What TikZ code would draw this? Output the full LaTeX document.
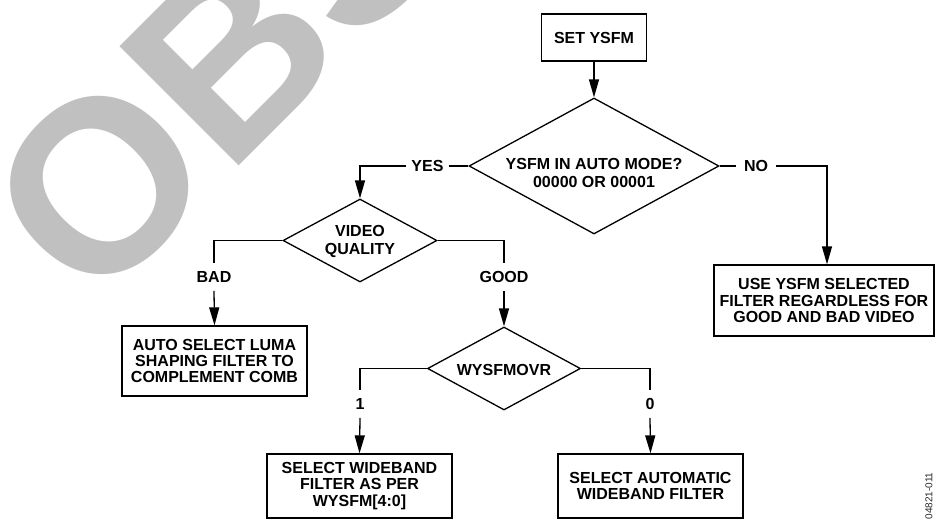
\documentclass[tikz,border=0pt]{standalone}
\usepackage{fontspec}
\setmainfont{Liberation Sans}
\usetikzlibrary{shapes.geometric,arrows.meta}
\definecolor{wmgrey}{HTML}{C0C0C0}
\begin{document}
\begin{tikzpicture}[x=1pt,y=-1pt,
  boxnode/.style={draw, line width=1.3pt, inner sep=0pt, align=center,
    font=\bfseries\fontsize{16}{16.4}\selectfont},
  dianode/.style={draw, shape=diamond, line width=1.3pt, inner sep=0pt},
  diatext/.style={align=center, inner sep=0pt,
    font=\bfseries\fontsize{16}{17.5}\selectfont},
  lblnode/.style={inner xsep=5pt, inner ysep=8pt, text height=11.5pt, text depth=0pt,
    font=\bfseries\fontsize{16}{16}\selectfont},
  conn/.style={line width=1.3pt},
  arrconn/.style={line width=1.3pt, -{Triangle[length=18pt,width=10pt]}},
  wmtext/.style={rotate=45, anchor=base west, inner sep=0pt, text=wmgrey,
    font=\bfseries\fontsize{245}{245}\selectfont}
]
\useasboundingbox (0,0) rectangle (935,523);
% watermark
\begin{scope}
  \clip (0,0) rectangle (935,523);
  \node[wmtext] (wm) at (92.5,312.5) {OBSOLETE};
\end{scope}

% boxes
\node[boxnode, minimum width=105pt, minimum height=47pt] (set) at (594,37.5) {SET YSFM};
\node[boxnode, minimum width=185pt, minimum height=70pt] (luma) at (214.5,361) {AUTO SELECT LUMA\\SHAPING FILTER TO\\COMPLEMENT COMB};
\node[boxnode, minimum width=220pt, minimum height=71pt] (use) at (824,300.5) {USE YSFM SELECTED\\FILTER REGARDLESS FOR\\GOOD AND BAD VIDEO};
\node[boxnode, minimum width=185pt, minimum height=64pt] (wide) at (359.5,486) {SELECT WIDEBAND\\FILTER AS PER\\WYSFM[4:0]};
\node[boxnode, minimum width=185pt, minimum height=64pt] (autow) at (650.5,486) {SELECT AUTOMATIC\\WIDEBAND FILTER};

% diamonds
\node[dianode, minimum width=250pt, minimum height=136pt] (d1) at (594,166) {};
\node[diatext] (d1t) at (594,173) {YSFM IN AUTO MODE?\\00000 OR 00001};
\node[dianode, minimum width=154pt, minimum height=83pt] (vq) at (360,240.5) {};
\node[diatext] (vqt) at (360,241.5) {VIDEO\\QUALITY};
\node[dianode, minimum width=153pt, minimum height=83pt] (wy) at (504,368.5) {};
\node[diatext] (wyt) at (504,369.5) {WYSFMOVR};

% labels
\node[lblnode] (yes) at (427.5,166) {YES};
\node[lblnode, inner xsep=8pt] (no) at (756,166) {NO};
\node[lblnode] (bad) at (214,277) {BAD};
\node[lblnode] (good) at (504,277) {GOOD};
\node[lblnode] (one) at (360,404) {1};
\node[lblnode] (zero) at (650,404) {0};

% connectors
\draw[arrconn] (set.south) -- (d1.north);
\draw[conn] (d1.west) -- (yes.east);
\draw[arrconn] (yes.west) -| (vq.north);
\draw[conn] (d1.east) -- (no.west);
\draw[arrconn] (no.east) -| ([xshift=3pt]use.north);
\draw[conn] (vq.west) -| (bad.north);
\draw[arrconn] (bad.south) -- (luma.north);
\draw[conn] (vq.east) -| (good.north);
\draw[arrconn] (good.south) -- (wy.north);
\draw[conn] (wy.west) -| (one.north);
\draw[arrconn] (one.south) -- (wide.north);
\draw[conn] (wy.east) -| (zero.north);
\draw[arrconn] (zero.south) -- (autow.north);

% figure code
\node[rotate=90, inner sep=0pt, text=black!85, font=\fontsize{10}{10}\selectfont] (code) at (929,496) {04821-011};
\end{tikzpicture}
\end{document}
